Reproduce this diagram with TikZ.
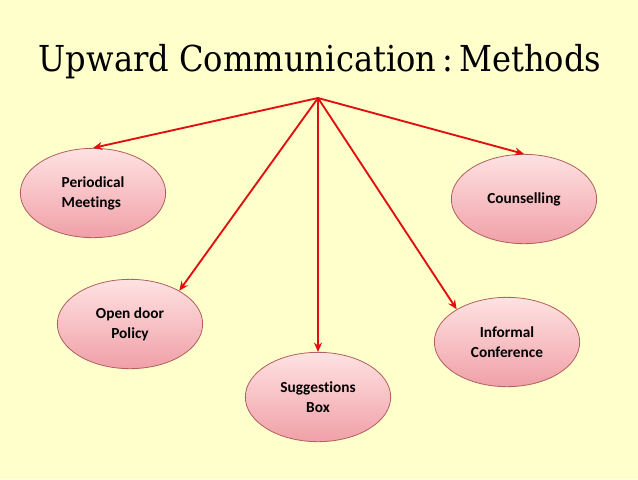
\documentclass[tikz,border=0pt]{standalone}
\usepackage{fontspec}
\setmainfont[Ligatures=NoCommon]{Carlito}
\newfontfamily\titlefont{DejaVu Serif Condensed}
\usetikzlibrary{arrows.meta,positioning,shapes.geometric}

\definecolor{paper}{HTML}{FFFFCC}
\definecolor{linkred}{HTML}{E01010}
\definecolor{rimred}{HTML}{B06060}
\definecolor{pinktop}{HTML}{FFE2E2}
\definecolor{pinkbot}{HTML}{F0A0A8}

\tikzset{
  method/.style={ellipse, draw=rimred, line width=0.6pt, top color=pinktop,
    bottom color=pinkbot, minimum width=109pt, minimum height=67pt,
    inner sep=0pt, align=center, font=\fontsize{11.5}{15}\selectfont\bfseries},
  link/.style={draw=linkred, line width=1.4pt, -{Stealth[length=7pt,width=6pt]}}
}

\begin{document}
\begin{tikzpicture}[x=0.75pt,y=-0.75pt]

% background
\fill[paper] (0,0) rectangle (638,479);
\useasboundingbox (0,0) rectangle (638,479);

% title
\node[anchor=base, font=\titlefont\fontsize{26.8}{31}\selectfont] (title) at (320,71)
  {Upward Communication\,:\,Methods};

% hub
\coordinate (hub) at (318,98);

% methods
\node[method, align=left] (periodic) at (93,193) {Periodical\\Meetings};
\node[method] (opendoor) at (130,324) {Open door\\Policy};
\node[method] (suggest) at (318,397) {Suggestions\\Box};
\node[method] (informal) at (507,342) {Informal\\Conference};
\node[method] (counsel) at (524,199) {Counselling};

% arrows
\draw[link] (hub) -- (periodic.north);
\draw[link] (hub) -- (opendoor.34);
\draw[link] (hub) -- (suggest.north);
\draw[link] (hub) -- (informal.147);
\draw[link] (hub) -- (counsel.north);

\end{tikzpicture}
\end{document}
